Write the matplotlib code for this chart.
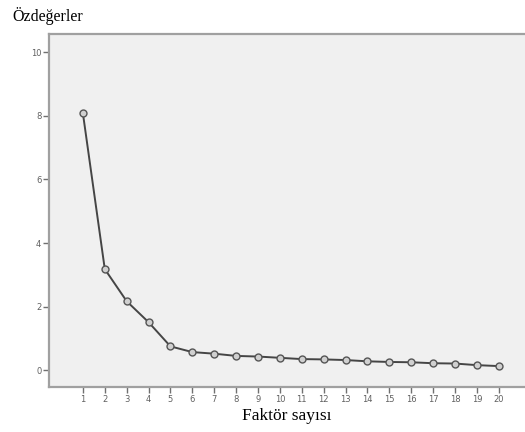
import matplotlib.pyplot as plt
import numpy as np

factors = list(range(1, 21))
eigenvalues = [8.08, 3.18, 2.17, 1.51, 0.75, 0.57, 0.52, 0.45, 0.43, 0.39,
               0.35, 0.34, 0.32, 0.28, 0.26, 0.25, 0.22, 0.21, 0.16, 0.13]
y_ticks = [0, 2, 4, 6, 8, 10]

fig = plt.figure(figsize=(5.25, 4.32), dpi=100)
ax = fig.add_axes([0.0933, 0.104, 0.9067, 0.817])
ax.set_facecolor('#f0f0f0')

ax.plot(factors, eigenvalues, color='#454545', linewidth=1.4,
        marker='o', markersize=5, markerfacecolor='#d0d0d0',
        markeredgecolor='#555555', markeredgewidth=1.0)

ax.set_xlim(-0.55, 21.2)
ax.set_ylim(-0.53, 10.57)
ax.set_xticks(factors)
ax.set_yticks(y_ticks)
ax.tick_params(axis='both', direction='out', length=4, width=1,
               color='#707070', labelsize=6, labelcolor='#606060', pad=1.5)

for side in ['left', 'bottom', 'top']:
    ax.spines[side].set_color('#a0a0a0')
    ax.spines[side].set_linewidth(1.6)
ax.spines['right'].set_visible(False)

fig.text(0.023, 0.963, 'Özdeğerler', family='Liberation Serif', fontsize=11.5,
         ha='left', va='center', color='black')
ax.set_xlabel('Faktör sayısı', family='Liberation Serif', fontsize=12.5,
              labelpad=3)

fig.savefig('out.png', dpi=100)
